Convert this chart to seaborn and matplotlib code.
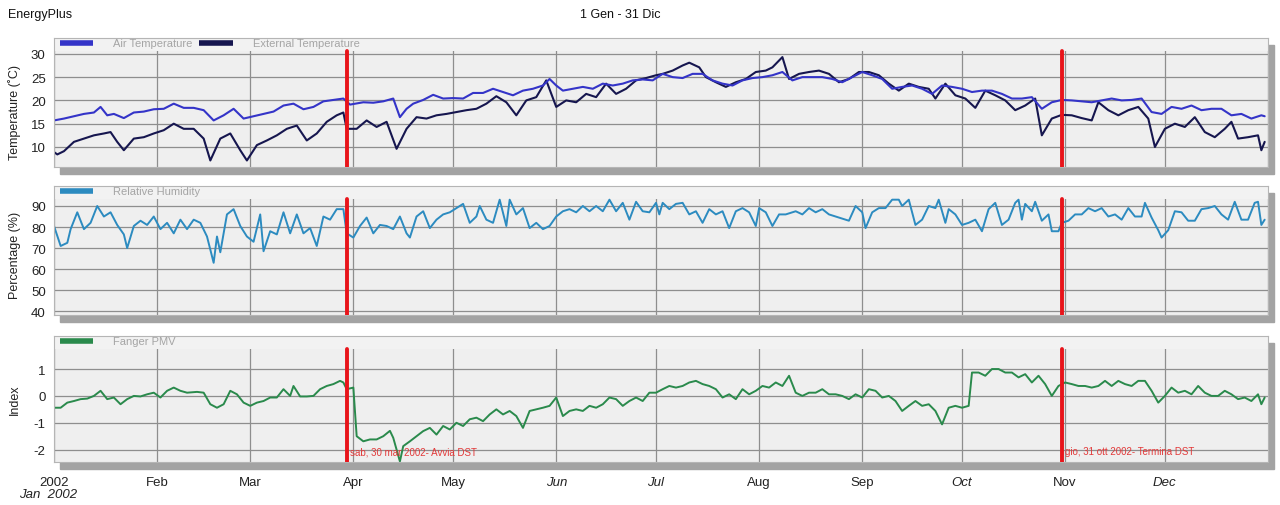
import matplotlib

matplotlib.use("Agg")
import matplotlib.dates as mdates
import matplotlib.pyplot as plt
import pandas as pd
import seaborn as sns
from matplotlib.lines import Line2D
from matplotlib.patches import Rectangle

YEAR_START = pd.Timestamp("2002-01-01")

# daily values (day-of-year, 0 = 1 Jan)
AIR_DAYS = [0, 3, 6, 9, 12, 14, 16, 18, 21, 24,
            27, 30, 33, 36, 39, 42, 45, 48, 51, 54,
            57, 60, 63, 66, 69, 72, 75, 78, 81, 84,
            87, 89, 93, 96, 99, 102, 104, 106, 108, 111,
            114, 117, 120, 123, 126, 129, 132, 135, 138, 141,
            144, 147, 149, 151, 153, 156, 159, 162, 165, 168,
            171, 174, 177, 180, 183, 186, 189, 192, 195, 198,
            201, 204, 207, 210, 213, 216, 219, 222, 225, 228,
            231, 234, 237, 240, 243, 246, 249, 252, 255, 258,
            261, 264, 267, 270, 273, 276, 279, 282, 285, 288,
            291, 294, 297, 300, 303, 306, 309, 312, 315, 318,
            321, 324, 327, 330, 333, 336, 339, 342, 345, 348,
            351, 354, 357, 360, 363, 364]
AIR_TEMP = [15.7, 16.1, 16.6, 17.1, 17.4, 18.6, 16.8, 17.1, 16.2, 17.4,
            17.6, 18.1, 18.2, 19.3, 18.4, 18.4, 17.9, 15.7, 16.8, 18.2,
            16.1, 16.6, 17.1, 17.6, 18.9, 19.3, 18.1, 18.6, 19.8, 20.1,
            20.4, 19.1, 19.6, 19.5, 19.8, 20.4, 16.4, 18.2, 19.3, 20.1,
            21.2, 20.4, 20.5, 20.4, 21.6, 21.6, 22.5, 21.8, 21.1, 22.1,
            22.5, 23.2, 24.6, 23.2, 22.1, 22.5, 22.9, 22.5, 23.6, 23.2,
            23.6, 24.3, 24.5, 24.3, 25.7, 25.0, 24.8, 25.7, 25.7, 24.3,
            23.6, 23.2, 24.3, 24.8, 25.0, 25.4, 26.1, 24.3, 25.0, 25.0,
            25.0, 24.6, 23.9, 25.0, 26.1, 25.4, 24.6, 22.5, 22.9, 23.2,
            22.5, 21.4, 23.2, 22.9, 22.5, 21.8, 22.1, 22.1, 21.4, 20.4,
            20.4, 20.7, 18.2, 19.6, 20.1, 20.0, 19.8, 19.6, 20.0, 20.4,
            20.0, 20.1, 20.4, 17.5, 17.1, 18.6, 18.2, 18.9, 17.9, 18.2,
            18.2, 16.8, 17.1, 16.1, 16.8, 16.6]

EXT_DAYS = [0, 1, 3, 6, 9, 12, 15, 17, 19, 21,
            24, 27, 30, 33, 36, 39, 42, 45, 47, 50,
            53, 56, 58, 61, 64, 67, 70, 73, 76, 79,
            82, 85, 87, 88, 91, 94, 97, 100, 103, 106,
            109, 112, 115, 118, 121, 124, 127, 130, 133, 136,
            139, 142, 145, 148, 151, 154, 157, 160, 163, 166,
            169, 172, 175, 178, 181, 183, 186, 189, 191, 194,
            196, 199, 202, 205, 208, 211, 214, 216, 219, 221,
            224, 227, 230, 233, 236, 239, 242, 245, 248, 251,
            254, 257, 260, 263, 265, 268, 271, 274, 277, 280,
            283, 286, 289, 292, 295, 297, 300, 303, 306, 309,
            312, 314, 317, 320, 323, 326, 329, 331, 334, 337,
            340, 343, 346, 349, 352, 354, 356, 359, 362, 363,
            364]
EXT_TEMP = [8.9, 8.4, 9.1, 11.1, 11.8, 12.5, 12.9, 13.2, 11.1, 9.3,
            11.8, 12.1, 12.9, 13.6, 15.0, 13.9, 13.9, 11.8, 7.1, 11.8,
            12.9, 9.3, 7.1, 10.4, 11.4, 12.5, 13.9, 14.6, 11.4, 12.9,
            15.4, 16.8, 17.4, 13.9, 13.9, 15.7, 14.3, 15.4, 9.6, 13.9,
            16.4, 16.1, 16.8, 17.1, 17.5, 17.9, 18.2, 19.3, 20.9, 19.6,
            16.8, 20.0, 20.7, 24.3, 18.6, 20.0, 19.6, 21.4, 20.7, 23.6,
            21.4, 22.5, 24.3, 24.8, 25.4, 25.7, 26.4, 27.5, 28.1, 27.1,
            25.0, 23.9, 22.9, 23.9, 24.6, 26.1, 26.4, 27.1, 29.3, 24.6,
            25.7, 26.1, 26.4, 25.7, 23.9, 24.6, 26.1, 26.1, 25.4, 23.6,
            22.1, 23.6, 22.9, 22.5, 20.4, 23.6, 21.1, 20.4, 18.4, 22.1,
            21.1, 20.0, 17.9, 18.9, 20.4, 12.5, 16.1, 16.9, 16.8, 16.2,
            15.7, 19.6, 17.9, 16.8, 17.9, 18.6, 16.1, 10.0, 13.9, 15.0,
            14.3, 16.4, 13.2, 12.1, 13.9, 15.4, 11.8, 12.1, 12.5, 9.3,
            11.1]

RH_DAYS = [0, 2, 4, 5, 7, 9, 11, 13, 15, 17,
           19, 21, 22, 24, 26, 28, 30, 32, 34, 36,
           38, 40, 42, 44, 46, 48, 49, 50, 52, 54,
           56, 58, 60, 62, 63, 65, 67, 69, 71, 73,
           75, 77, 79, 81, 83, 85, 87, 88, 90, 92,
           94, 96, 98, 100, 102, 104, 106, 107, 109, 111,
           113, 115, 117, 119, 121, 123, 125, 127, 128, 130,
           132, 134, 136, 137, 139, 141, 143, 145, 147, 149,
           151, 153, 155, 157, 159, 161, 163, 165, 167, 169,
           171, 173, 175, 177, 179, 181, 182, 183, 185, 187,
           189, 191, 193, 195, 197, 199, 201, 203, 205, 207,
           209, 211, 212, 214, 216, 218, 220, 223, 225, 227,
           229, 231, 233, 236, 239, 241, 243, 244, 246, 248,
           250, 252, 254, 255, 257, 259, 261, 263, 265, 266,
           268, 269, 271, 273, 275, 277, 279, 281, 283, 285,
           287, 289, 290, 291, 292, 294, 295, 297, 299, 300,
           302, 303, 305, 307, 309, 311, 313, 315, 317, 319,
           321, 323, 325, 327, 328, 330, 332, 333, 335, 337,
           339, 341, 343, 345, 347, 349, 351, 353, 355, 357,
           359, 361, 362, 363, 364]
RH_PCT = [80.5, 71, 72.5, 79, 87, 79, 82, 90, 85, 87,
          81, 76.5, 70, 80.5, 83, 81, 85, 79, 82, 77,
          83.5, 79, 83.5, 82, 75.5, 63, 75.5, 68, 86, 88.5,
          80.5, 75.5, 73, 86, 68.5, 78, 76.5, 87, 77, 86,
          77, 79.5, 71, 85, 83.5, 88.5, 88.5, 77, 75, 80.5,
          84.5, 77, 81, 80.5, 79, 85, 77, 75, 85, 87.5,
          79.5, 83.5, 86, 87, 89, 91, 82, 85, 90, 83.5,
          82, 93, 80.5, 93, 86, 89, 79.5, 82, 79, 80.5,
          85, 87.5, 88.5, 87, 90, 87.5, 90, 87.5, 93, 87.5,
          91.5, 83.5, 92, 87.5, 87, 91.5, 86, 91.5, 88.5, 91,
          91.5, 86, 87.5, 82, 88.5, 86, 87.5, 79.5, 87.5, 89,
          87, 80.5, 89, 87, 80.5, 86, 86, 87.5, 86, 89,
          87, 88.5, 86, 84.5, 83, 90, 87, 79.5, 87, 89,
          89, 93, 93, 90, 93, 81, 83.5, 90, 89, 93,
          82, 88.5, 86, 81, 82, 83.5, 78, 88.5, 91.5, 81,
          83.5, 91.5, 93, 83.5, 91, 87.5, 92, 83, 86, 78,
          78, 82, 83, 86, 86, 89, 87.5, 89, 85, 86,
          83.5, 89, 85, 85, 91.5, 84.5, 78.5, 75, 78.5, 87.5,
          87, 83, 83, 88.5, 89, 90, 86, 83.5, 92, 83.5,
          83.5, 91.5, 92, 81, 83.5]

PMV_DAYS = [0, 2, 4, 6, 8, 10, 12, 14, 16, 18,
            20, 22, 24, 26, 28, 30, 32, 34, 36, 38,
            40, 43, 45, 47, 49, 51, 53, 55, 57, 59,
            61, 63, 65, 67, 69, 71, 72, 74, 76, 78,
            80, 82, 84, 86, 87, 88, 90, 91, 93, 95,
            97, 99, 101, 102, 104, 105, 107, 109, 111, 113,
            115, 117, 119, 121, 123, 125, 127, 129, 131, 133,
            135, 137, 139, 141, 143, 145, 147, 149, 151, 153,
            155, 157, 159, 161, 163, 165, 167, 169, 171, 173,
            175, 177, 179, 181, 183, 185, 187, 189, 191, 193,
            195, 197, 199, 201, 203, 205, 207, 209, 211, 213,
            215, 217, 219, 221, 223, 225, 227, 229, 231, 233,
            235, 237, 239, 241, 243, 245, 247, 249, 251, 253,
            255, 257, 259, 261, 263, 265, 267, 269, 271, 273,
            275, 276, 278, 280, 282, 284, 286, 288, 290, 292,
            294, 296, 298, 300, 302, 304, 306, 308, 310, 312,
            314, 316, 318, 320, 322, 324, 326, 328, 330, 332,
            334, 336, 338, 340, 342, 344, 346, 348, 350, 352,
            354, 356, 358, 360, 362, 363, 364]
PMV_INDEX = [-0.44, -0.44, -0.25, -0.19, -0.12, -0.1, 0, 0.19, -0.12, -0.06,
             -0.31, -0.12, 0, -0.02, 0.06, 0.12, -0.06, 0.19, 0.31, 0.19,
             0.12, 0.15, 0.12, -0.31, -0.44, -0.31, 0.19, 0.06, -0.25, -0.37,
             -0.25, -0.19, -0.06, -0.06, 0.25, 0, 0.37, -0.02, -0.02, 0,
             0.25, 0.37, 0.44, 0.56, 0.5, 0.25, 0.31, -1.5, -1.69, -1.62,
             -1.62, -1.5, -1.3, -1.56, -2.44, -1.87, -1.69, -1.5, -1.31, -1.19,
             -1.44, -1.12, -1.25, -1.0, -1.12, -0.87, -0.81, -0.94, -0.69, -0.5,
             -0.69, -0.56, -0.75, -1.19, -0.56, -0.5, -0.44, -0.37, -0.06, -0.75,
             -0.56, -0.5, -0.56, -0.37, -0.44, -0.31, -0.06, -0.12, -0.37, -0.19,
             -0.06, -0.19, 0.12, 0.12, 0.25, 0.37, 0.31, 0.37, 0.5, 0.56,
             0.44, 0.37, 0.25, -0.06, 0.06, -0.12, 0.25, 0.06, 0.19, 0.37,
             0.31, 0.5, 0.37, 0.75, 0.12, 0, 0.12, 0.12, 0.25, 0.06,
             0.06, 0, -0.12, 0.06, -0.06, 0.25, 0.19, -0.06, 0, -0.19,
             -0.56, -0.37, -0.19, -0.37, -0.31, -0.56, -1.06, -0.44, -0.37, -0.44,
             -0.37, 0.87, 0.87, 0.75, 1.0, 1.0, 0.87, 0.87, 0.69, 0.81,
             0.5, 0.75, 0.44, 0, 0.37, 0.5, 0.44, 0.37, 0.37, 0.31,
             0.37, 0.56, 0.37, 0.56, 0.44, 0.37, 0.56, 0.56, 0.19, -0.25,
             0, 0.31, 0.12, 0.19, 0.06, 0.37, 0.12, 0, 0, 0.19,
             0.06, -0.12, -0.06, -0.19, 0.06, -0.31, -0.06]

MONTH_LABELS = ["2002", "Feb", "Mar", "Apr", "May", "Jun", "Jul", "Aug", "Sep", "Oct", "Nov", "Dec"]
ITALIC_MONTHS = {"Jun", "Jul", "Oct", "Dec"}

DST_START = pd.Timestamp("2002-03-30")
DST_END = pd.Timestamp("2002-10-31")

W, H = 1280, 506
LEFT, RIGHT = 54, 1268
GRID = "#8e8e8e"
BG = "#efefef"


def to_frame(days, values):
    return pd.DataFrame({"date": YEAR_START + pd.to_timedelta(days, unit="D"), "value": values})


def add_panel(fig, top, bottom):
    rect = [LEFT / W, 1 - bottom / H, (RIGHT - LEFT) / W, (bottom - top) / H]
    # drop shadow like the EnergyPlus viewer
    fig.add_artist(Rectangle((rect[0] + 6 / W, rect[1] - 7 / H), rect[2], rect[3],
                             transform=fig.transFigure, color="#a3a3a3", zorder=-1))
    ax = fig.add_axes(rect)
    ax.set_facecolor(BG)
    for s in ax.spines.values():
        s.set_color("#b5b5b5")
        s.set_linewidth(0.8)
    return ax


def style_panel(ax, ylim, yticks, ylabel, label_y):
    ax.set_ylim(*ylim)
    ax.set_yticks(yticks)
    ax.set_xlim(YEAR_START, pd.Timestamp("2003-01-01"))
    ax.xaxis.set_major_locator(mdates.MonthLocator())
    ax.set_axisbelow(True)
    ax.grid(True, axis="both", color=GRID, linewidth=0.9)
    ax.tick_params(axis="y", labelsize=9.5, length=4, color="#333333", labelcolor="#222222", pad=2)
    ax.tick_params(axis="x", length=0)
    ax.set_ylabel(ylabel, fontsize=9, color="#222222")
    ax.yaxis.set_label_coords(-0.027, label_y)
    ax.set_xlabel("")
    # legend strip at the top of each panel
    ax.add_patch(Rectangle((0, 0.9), 1, 0.1, transform=ax.transAxes, facecolor="#f2f2f2",
                           edgecolor="none", zorder=1.2))
    for d in (DST_START, DST_END):
        ax.axvline(d, ymin=0, ymax=0.9, color="#e8141a", linewidth=2.8, zorder=3)


def add_legend(ax, entries):
    handles = [Line2D([], [], color=c, linewidth=4, solid_capstyle="butt") for c, _ in entries]
    ax.legend(handles, [t for _, t in entries], loc="upper left", bbox_to_anchor=(0.004, 1.005),
              ncol=len(entries), frameon=False, fontsize=8, labelcolor="#a5a5a5",
              handlelength=3.0, handletextpad=1.8, columnspacing=0.6, borderpad=0.1,
              borderaxespad=0)


def main():
    sns.set_style("white")
    plt.rcParams["font.family"] = ["Liberation Sans", "DejaVu Sans"]
    plt.rcParams["axes.unicode_minus"] = False

    fig = plt.figure(figsize=(W / 100, H / 100), dpi=100)

    ax1 = add_panel(fig, 39, 168)
    ax2 = add_panel(fig, 187, 316)
    ax3 = add_panel(fig, 337, 463)

    air_c, ext_c, rh_c, pmv_c = "#3434c8", "#16164f", "#2c8bc0", "#2a8a4c"

    sns.lineplot(data=to_frame(AIR_DAYS, AIR_TEMP), x="date", y="value", ax=ax1,
                 color=air_c, linewidth=1.5, zorder=2.2)
    sns.lineplot(data=to_frame(EXT_DAYS, EXT_TEMP), x="date", y="value", ax=ax1,
                 color=ext_c, linewidth=1.5, zorder=2.1)
    sns.lineplot(data=to_frame(RH_DAYS, RH_PCT), x="date", y="value", ax=ax2,
                 color=rh_c, linewidth=1.4)
    sns.lineplot(data=to_frame(PMV_DAYS, PMV_INDEX), x="date", y="value", ax=ax3,
                 color=pmv_c, linewidth=1.4)

    style_panel(ax1, (5.7, 33.4), [10, 15, 20, 25, 30], "Temperature (˚C)", 0.43)
    style_panel(ax2, (38.2, 99.5), [40, 50, 60, 70, 80, 90], "Percentage (%)", 0.47)
    style_panel(ax3, (-2.46, 2.23), [-2, -1, 0, 1], "Index", 0.5)

    add_legend(ax1, [(air_c, "Air Temperature"), (ext_c, "External Temperature")])
    add_legend(ax2, [(rh_c, "Relative Humidity")])
    add_legend(ax3, [(pmv_c, "Fanger PMV")])

    for ax in (ax1, ax2):
        ax.set_xticklabels([])

    ax3.set_xticks(pd.date_range("2002-01-01", periods=12, freq="MS"))
    ax3.set_xticklabels(MONTH_LABELS)
    ax3.tick_params(axis="x", labelsize=9.5, labelcolor="#222222", pad=10)
    for lbl in ax3.get_xticklabels():
        if lbl.get_text() in ITALIC_MONTHS:
            lbl.set_fontstyle("italic")
    fig.text(48 / W, 1 - 495 / H, "Jan  2002", fontsize=9.5, fontstyle="italic",
             color="#222222", ha="center", va="center")

    ax3.text(DST_START + pd.Timedelta(days=1), -2.06, "sab, 30 mar 2002- Avvia DST",
             fontsize=7, color="#e23a3a", va="center", zorder=4)
    ax3.text(DST_END + pd.Timedelta(days=1), -2.06, "gio, 31 ott 2002- Termina DST",
             fontsize=7, color="#e23a3a", va="center", zorder=4)

    fig.text(8 / W, 1 - 15 / H, "EnergyPlus", fontsize=9, color="#111111", va="center")
    fig.text(620 / W, 1 - 15 / H, "1 Gen - 31 Dic", fontsize=9, color="#111111",
             ha="center", va="center")

    fig.savefig("out.png", dpi=100)


if __name__ == "__main__":
    main()
